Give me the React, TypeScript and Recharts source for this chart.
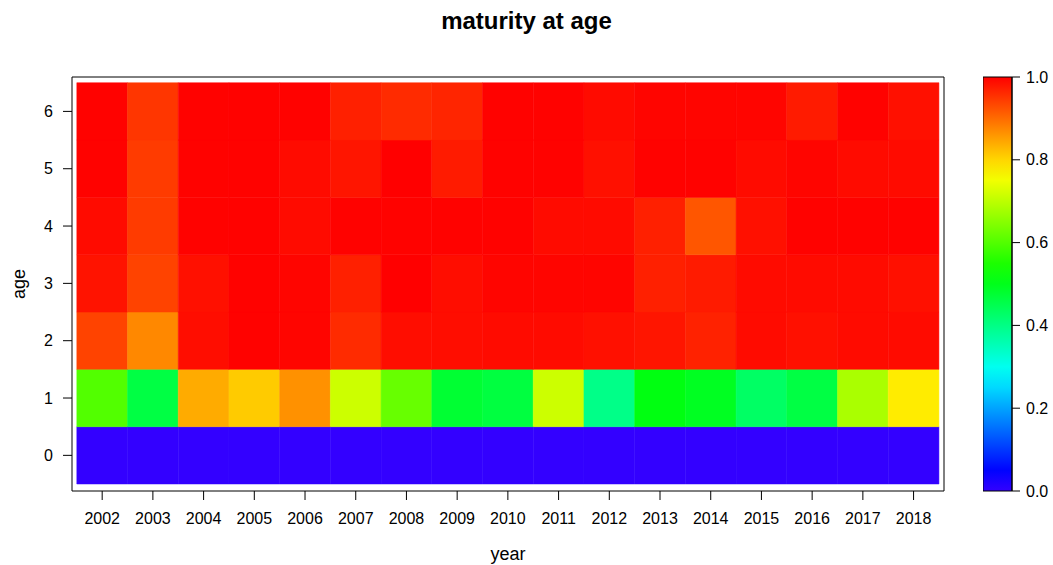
import { ComposedChart, XAxis, YAxis, ReferenceArea, Label, Line } from "recharts";

const years = [2002, 2003, 2004, 2005, 2006, 2007, 2008, 2009, 2010, 2011, 2012, 2013, 2014, 2015, 2016, 2017, 2018];
const ages = [0, 1, 2, 3, 4, 5, 6];

// maturity by age, one value per year
const mat0 = [0, 0, 0, 0, 0, 0, 0, 0, 0, 0, 0, 0, 0, 0, 0, 0, 0];
const mat1 = [0.6, 0.46, 0.84, 0.81, 0.865, 0.714, 0.62, 0.476, 0.464, 0.714, 0.397, 0.508, 0.492, 0.43, 0.46, 0.683, 0.78];
const mat2 = [0.937, 0.873, 0.988, 0.998, 0.995, 0.96, 0.988, 0.988, 0.99, 0.99, 0.985, 0.98, 0.968, 0.99, 0.985, 0.99, 0.99];
const mat3 = [0.982, 0.937, 0.985, 0.998, 0.995, 0.97, 1.0, 0.988, 0.995, 0.995, 0.995, 0.97, 0.975, 0.99, 0.99, 0.99, 0.985];
const mat4 = [0.99, 0.945, 0.998, 0.998, 0.99, 0.998, 0.998, 0.998, 0.998, 0.99, 0.99, 0.97, 0.92, 0.985, 0.998, 0.998, 0.998];
const mat5 = [0.998, 0.945, 0.998, 0.998, 0.99, 0.98, 1.0, 0.975, 0.998, 0.998, 0.985, 0.998, 0.998, 0.99, 0.995, 0.99, 0.99];
const mat6 = [0.998, 0.95, 0.998, 0.998, 0.998, 0.97, 0.96, 0.965, 0.998, 0.998, 0.99, 0.995, 0.995, 0.995, 0.975, 0.998, 0.985];
const maturity = [mat0, mat1, mat2, mat3, mat4, mat5, mat6];

const keyTicks = [0, 0.2, 0.4, 0.6, 0.8, 1.0];

const font = "'Liberation Sans', Arial, sans-serif";

// reversed rainbow: 0 -> blue/violet, 1 -> red
function toColor(v: number) {
  const h = 252 * (1 - v);
  const f = (n: number) => {
    const k = (n + h / 60) % 6;
    return 1 - Math.max(0, Math.min(k, 4 - k, 1));
  };
  const hex = (x: number) => Math.round(x * 255).toString(16).padStart(2, "0");
  return `#${hex(f(5))}${hex(f(3))}${hex(f(1))}`;
}

const cells = ages.flatMap((age) =>
  years.map((year, i) => ({ year, age, value: maturity[age][i] }))
);

const keyData = [{ x: 0, v: 0 }, { x: 1, v: 1 }];
const gradStops = Array.from({ length: 21 }, (_, i) => i / 20);

export default function App() {
  const tickStyle = { fontSize: 16, fill: "#000", fontFamily: font };
  return (
    <div style={{ position: "absolute", left: 0, top: 0, width: 1053, height: 565, background: "#fff", fontFamily: font }}>
      <div style={{ position: "absolute", left: 0, top: 7, width: 1053, textAlign: "center", fontWeight: "bold", fontSize: 24, color: "#000" }}>
        maturity at age
      </div>
      <div style={{ position: "absolute", left: 0, top: 0 }}>
        <ComposedChart width={1053} height={565} data={cells} margin={{ top: 0, right: 100, bottom: 0, left: 0 }}>
          <XAxis xAxisId="b" type="number" dataKey="year" orientation="bottom" domain={[2001.405, 2018.6]} ticks={years}
            allowDataOverflow interval={0} height={74} tickSize={9} tickMargin={13} stroke="#000" tick={tickStyle}>
            <Label value="year" position="insideBottom" offset={5} style={{ fontSize: 18, fill: "#000", fontFamily: font }} />
          </XAxis>
          <XAxis xAxisId="t" type="number" orientation="top" domain={[2001.405, 2018.6]} ticks={years}
            allowDataOverflow interval={0} height={77} tickSize={9} tick={false} stroke="#000" />
          <YAxis yAxisId="l" type="number" dataKey="age" orientation="left" domain={[-0.622, 6.6]} ticks={ages}
            allowDataOverflow interval={0} width={72} tickSize={9} tickMargin={10} stroke="#000" tick={tickStyle}>
            <Label value="age" angle={-90} position="insideLeft" offset={19} style={{ fontSize: 18, fill: "#000", fontFamily: font, textAnchor: "middle" }} />
          </YAxis>
          <YAxis yAxisId="r" type="number" orientation="right" domain={[-0.622, 6.6]} ticks={ages}
            allowDataOverflow interval={0} width={9} tickSize={9} tick={false} stroke="#000" />
          {cells.map((c) => (
            <ReferenceArea key={`${c.year}-${c.age}`} xAxisId="b" yAxisId="l"
              x1={c.year - 0.5} x2={c.year + 0.5} y1={c.age - 0.5} y2={c.age + 0.5}
              fill={toColor(c.value)} fillOpacity={1} stroke={toColor(c.value)} strokeWidth={0.5} ifOverflow="visible" />
          ))}
        </ComposedChart>
      </div>
      <div style={{ position: "absolute", left: 983, top: 0 }}>
        <ComposedChart width={70} height={565} data={keyData} margin={{ top: 77, right: 0, bottom: 74, left: 0 }}>
          <defs>
            <linearGradient id="keyGrad" x1="0" y1="1" x2="0" y2="0">
              {gradStops.map((s) => (
                <stop key={s} offset={`${s * 100}%`} stopColor={toColor(s)} />
              ))}
            </linearGradient>
          </defs>
          <XAxis xAxisId="k" type="number" dataKey="x" domain={[0, 1]} hide />
          <YAxis yAxisId="k" type="number" dataKey="v" orientation="right" domain={[0, 1]} ticks={keyTicks} interval={0}
            width={41} tickSize={8} tickMargin={6} stroke="#000" tick={tickStyle}
            tickFormatter={(v: number) => v.toFixed(1)} />
          <Line xAxisId="k" yAxisId="k" dataKey="v" stroke="none" dot={false} isAnimationActive={false} />
          <ReferenceArea xAxisId="k" yAxisId="k" x1={0} x2={1} y1={0} y2={1}
            fill="url(#keyGrad)" fillOpacity={1} stroke="#000" strokeWidth={1} />
        </ComposedChart>
      </div>
    </div>
  );
}
